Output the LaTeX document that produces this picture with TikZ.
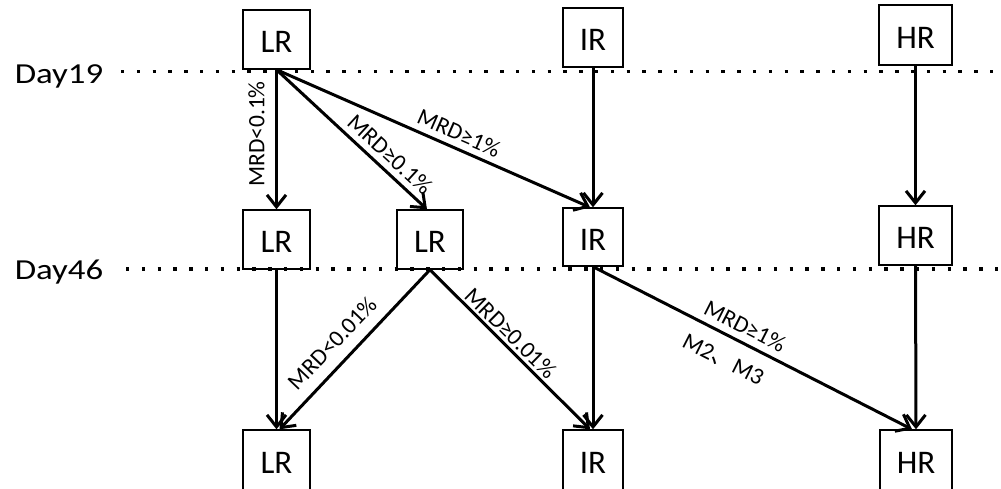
\documentclass[tikz,border=0pt]{standalone}
\usepackage{fontspec}
\setmainfont{Carlito}
\newfontfamily\cjkfont{Noto Sans CJK SC}
\usetikzlibrary{arrows.meta}
\begin{document}
\begin{tikzpicture}[x=1pt,y=-1pt,
  box/.style={draw,line width=1.4pt,inner sep=0pt,fill=white,text height=26pt,text depth=0pt,font=\fontsize{33}{33}\selectfont},
  arr/.style={line width=3pt,-{Straight Barb[length=12pt,width=19pt]}},
  lab/.style={font=\fontsize{23.5}{23.5}\selectfont,inner sep=0pt},
  dayline/.style={line width=3.3pt,dash pattern=on 3.3pt off 12.5pt},
  daylab/.style={font=\fontsize{29}{29}\selectfont,xscale=1.2,inner sep=0pt}]
\useasboundingbox (0,0) rectangle (1001,488);
\clip (0,0) rectangle (1001,488);
% boxes
\node[box,minimum width=67pt,minimum height=59pt] (lr1) at (276.5,39.5) {LR};
\node[box,minimum width=60pt,minimum height=59pt] (ir1) at (593,37.5) {IR};
\node[box,minimum width=73pt,minimum height=60pt] (hr1) at (915.5,35) {HR};
\node[box,minimum width=67pt,minimum height=59pt] (lr2a) at (276.5,239.5) {LR};
\node[box,minimum width=66pt,minimum height=59pt] (lr2b) at (430,239.5) {LR};
\node[box,minimum width=60pt,minimum height=58pt] (ir2) at (593,237) {IR};
\node[box,minimum width=73pt,minimum height=59pt] (hr2) at (915.5,235.5) {HR};
\node[box,minimum width=67pt,minimum height=60pt] (lr3) at (276.5,460) {LR};
\node[box,minimum width=60pt,minimum height=60pt] (ir3) at (593,460) {IR};
\node[box,minimum width=72pt,minimum height=60pt] (hr3) at (916,460) {HR};
% day lines
\node[daylab] (day19) at (59,76) {Day19};
\node[daylab] (day46) at (59,272) {Day46};
\coordinate (d19s) at (121,71.5);
\coordinate (d19e) at (1001,71.5);
\coordinate (d46s) at (126,269);
\coordinate (d46e) at (1001,269);
\draw[dayline] (d19s) -- (d19e);
\draw[dayline] (d46s) -- (d46e);
% arrows
\draw[arr] (lr1.south) -- (lr2a.north);
\draw[arr] (lr1.south) -- ([xshift=-3pt]lr2b.north);
\draw[arr] (lr1.south) -- ([xshift=-3pt]ir2.north);
\draw[arr] (ir1.south) -- (ir2.north);
\draw[arr] (hr1.south) -- (hr2.north);
\draw[arr] (lr2a.south) -- (lr3.north);
\draw[arr] (lr2b.south) -- ([xshift=3pt]lr3.north);
\draw[arr] (lr2b.south) -- ([xshift=-3pt]ir3.north);
\draw[arr] (ir2.south) -- (ir3.north);
\draw[arr] (ir2.south) -- ([xshift=-4pt]hr3.north);
\draw[arr] (hr2.south) -- (hr3.north);
% labels
\node[lab,rotate=90] (la) at (256.5,134) {MRD<0.1\%};
\node[lab,rotate=-42.6] (lb) at (390,154) {MRD≥0.1\%};
\node[lab,rotate=-23.7] (lc) at (459,133) {MRD≥1\%};
\node[lab,rotate=46.4] (ld) at (332,343) {MRD<0.01\%};
\node[lab,rotate=-44.6] (le) at (511,333) {MRD≥0.01\%};
\node[lab,rotate=-26.9] (lf) at (745,326) {MRD≥1\%};
\node[lab,rotate=-26.9] (lg) at (723,360) {M2{\cjkfont 、}M3};
\end{tikzpicture}
\end{document}
